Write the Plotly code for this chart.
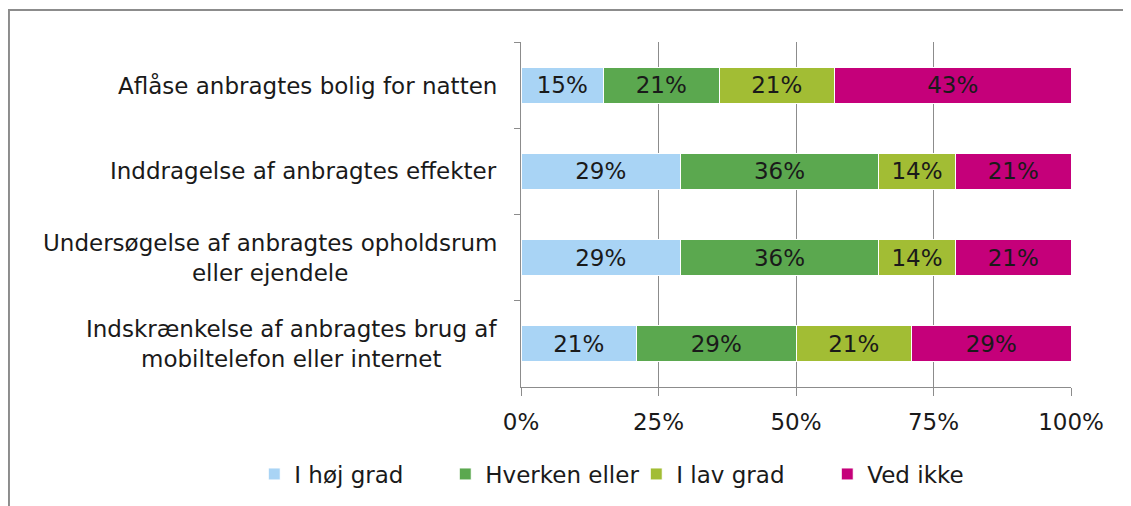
import plotly.graph_objects as go

categories = [
    "Aflåse anbragtes bolig for natten",
    "Inddragelse af anbragtes effekter",
    "Undersøgelse af anbragtes opholdsrum<br>eller ejendele",
    "Indskrænkelse af anbragtes brug af<br>mobiltelefon eller internet",
]
series_names = ["I høj grad", "Hverken eller", "I lav grad", "Ved ikke"]
hoj_grad = [15, 29, 29, 21]
hverken = [21, 36, 36, 29]
lav_grad = [21, 14, 14, 21]
ved_ikke = [43, 21, 21, 29]
colors = ["#A9D4F5", "#5BA84F", "#A2BD34", "#C5007A"]

x_ticks = [0, 0.25, 0.5, 0.75, 1.0]

FONT = "DejaVu Sans, Verdana, sans-serif"
GRAY = "#8c8c8c"
FS = 23

fig = go.Figure()
for name, vals, col in zip(series_names, [hoj_grad, hverken, lav_grad, ved_ikke], colors):
    fig.add_trace(go.Bar(
        y=categories,
        x=[v / 100 for v in vals],
        name=name,
        orientation="h",
        marker=dict(color=col, line=dict(color="white", width=1)),
        text=[f"{v}%" for v in vals],
        textposition="inside",
        insidetextanchor="middle",
        textfont=dict(color="#1a1a1a", size=FS, family=FONT),
    ))

# category labels, lines centred like the original
for cat in categories:
    fig.add_annotation(
        x=0, xref="paper", y=cat, yref="y",
        text=cat, showarrow=False,
        xanchor="right", align="center", xshift=-22,
        font=dict(size=FS, family=FONT, color="#1a1a1a"),
    )

# page body has an 8px margin, so the figure is 8px smaller
fig.update_layout(
    barmode="stack",
    bargap=0.58,
    width=1123,
    height=498,
    margin=dict(l=513, r=60, t=34, b=118),
    paper_bgcolor="white",
    plot_bgcolor="white",
    font=dict(family=FONT, size=FS, color="#1a1a1a"),
    legend=dict(
        orientation="h",
        x=-0.485, xanchor="left",
        y=-0.2486, yanchor="middle",
        font=dict(size=FS),
        traceorder="normal",
        bgcolor="rgba(0,0,0,0)",
        entrywidth=146,
        entrywidthmode="pixels",
    ),
    uniformtext=dict(mode="show", minsize=12),
)

fig.update_xaxes(
    range=[0, 1],
    tickvals=x_ticks,
    tickformat=".0%",
    showgrid=True,
    gridcolor=GRAY,
    gridwidth=1,
    showline=True,
    linecolor=GRAY,
    linewidth=1,
    ticks="outside",
    ticklen=8,
    tickcolor=GRAY,
    ticklabelstandoff=6,
    zeroline=False,
)

fig.update_yaxes(
    categoryorder="array",
    categoryarray=categories,
    autorange="reversed",
    tickson="boundaries",
    ticks="outside",
    ticklen=6,
    tickcolor=GRAY,
    showline=True,
    linecolor=GRAY,
    linewidth=1,
    showgrid=False,
    showticklabels=False,
)

# outer chart frame
fig.add_shape(
    type="rect", xref="paper", yref="paper",
    x0=-0.931, x1=1.12, y0=-0.36, y1=1.0925,
    line=dict(color=GRAY, width=2), layer="below",
)

fig.write_html("out.html")
